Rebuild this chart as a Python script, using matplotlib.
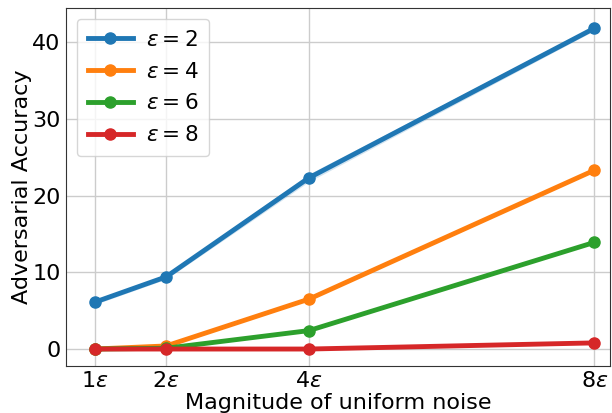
import numpy as np
import matplotlib
matplotlib.use("Agg")
import matplotlib.pyplot as plt

# noise magnitudes (multiples of epsilon)
noise = [1, 2, 4, 8]
noise_labels = [r"$1\epsilon$", r"$2\epsilon$", r"$4\epsilon$", r"$8\epsilon$"]

acc_eps2 = [6.1, 9.4, 22.3, 41.8]
acc_eps4 = [0.0, 0.4, 6.5, 23.3]
acc_eps6 = [0.0, 0.1, 2.4, 13.9]
acc_eps8 = [0.0, 0.0, 0.0, 0.8]
std_eps2 = [0.3, 0.3, 0.5, 0.3]

series = [
    (acc_eps2, r"$\epsilon = 2$", "#1f77b4"),
    (acc_eps4, r"$\epsilon = 4$", "#ff7f0e"),
    (acc_eps6, r"$\epsilon = 6$", "#2ca02c"),
    (acc_eps8, r"$\epsilon = 8$", "#d62728"),
]

plt.rcParams["font.size"] = 16
fig, ax = plt.subplots(figsize=(6.12, 4.13), dpi=100)

for vals, lab, col in series:
    ax.plot(noise, vals, "-o", color=col, lw=3.5, ms=8, label=lab)

lo = np.array(acc_eps2) - np.array(std_eps2)
hi = np.array(acc_eps2) + np.array(std_eps2)
ax.fill_between(noise, lo, hi, color="#1f77b4", alpha=0.2, lw=0)

ax.set_xticks(noise)
ax.set_xticklabels(noise_labels)
ax.set_yticks([0, 10, 20, 30, 40])
ax.set_xlim(0.6, 8.22)
ax.set_ylim(-2.2, 44.4)
ax.grid(True, color="#cccccc", lw=1)
ax.set_axisbelow(True)
for s in ax.spines.values():
    s.set_color("#333333")
ax.tick_params(length=0, pad=4)

ax.set_xlabel("Magnitude of uniform noise", labelpad=1)
ax.set_ylabel("Adversarial Accuracy", labelpad=0)
ax.legend(loc="upper left", fontsize=15.5, handlelength=2.1, handletextpad=0.6,
          borderpad=0.5, labelspacing=0.55, framealpha=0.8, borderaxespad=0.5)

fig.subplots_adjust(left=0.108, right=0.997, top=0.98, bottom=0.114)
fig.savefig("out.png", dpi=100)
